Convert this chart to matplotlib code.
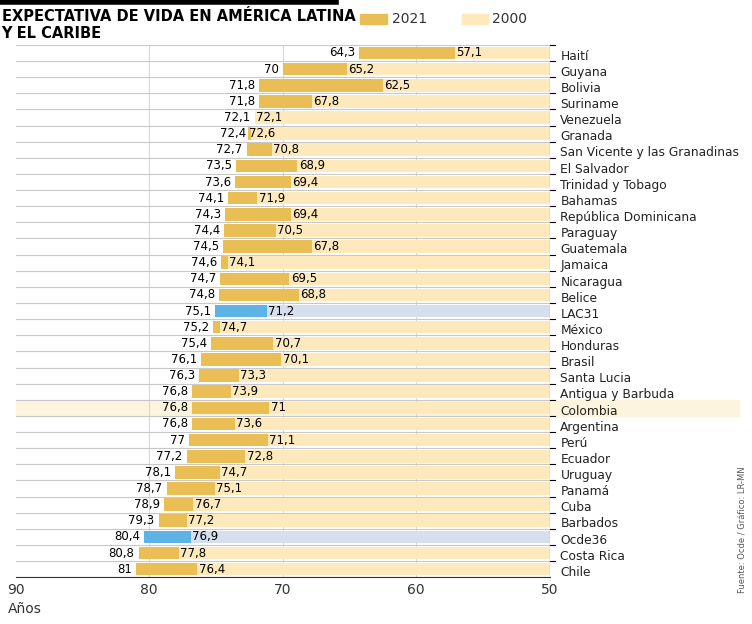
import matplotlib.pyplot as plt
from matplotlib.patches import Rectangle

paises = ["Haití", "Guyana", "Bolivia", "Suriname", "Venezuela", "Granada",
          "San Vicente y las Granadinas", "El Salvador", "Trinidad y Tobago", "Bahamas",
          "República Dominicana", "Paraguay", "Guatemala", "Jamaica", "Nicaragua", "Belice",
          "LAC31", "México", "Honduras", "Brasil", "Santa Lucia", "Antigua y Barbuda",
          "Colombia", "Argentina", "Perú", "Ecuador", "Uruguay", "Panamá", "Cuba",
          "Barbados", "Ocde36", "Costa Rica", "Chile"]
v2021 = [64.3, 70, 71.8, 71.8, 72.1, 72.4, 72.7, 73.5, 73.6, 74.1, 74.3, 74.4, 74.5,
         74.6, 74.7, 74.8, 75.1, 75.2, 75.4, 76.1, 76.3, 76.8, 76.8, 76.8, 77, 77.2,
         78.1, 78.7, 78.9, 79.3, 80.4, 80.8, 81]
v2000 = [57.1, 65.2, 62.5, 67.8, 72.1, 72.6, 70.8, 68.9, 69.4, 71.9, 69.4, 70.5, 67.8,
         74.1, 69.5, 68.8, 71.2, 74.7, 70.7, 70.1, 73.3, 73.9, 71, 73.6, 71.1, 72.8,
         74.7, 75.1, 76.7, 77.2, 76.9, 77.8, 76.4]

GOLD = "#E8BE55"
LIGHT = "#FDE9BC"
BLUE = "#5DB3E6"
BLUE_LIGHT = "#D5DFEE"

def fmt(v):
    s = ("%.1f" % v).replace(".", ",")
    return s[:-2] if s.endswith(",0") else s

fig = plt.figure(figsize=(7.52, 6.24), dpi=100)
ax = fig.add_axes([0.021, 0.075, 0.71, 0.853])
n = len(paises)

# fila destacada de Colombia
ci = paises.index("Colombia")
ax.add_patch(Rectangle((90, ci - 0.5), -54.2, 1, color="#FDF4DE", zorder=0, clip_on=False))

for x in [80, 70, 60]:
    ax.axvline(x, color="#d8d8d8", lw=0.8, zorder=0)
for i in range(n + 1):
    ax.plot([90, 50], [i - 0.5, i - 0.5], color="#c8c8c8", lw=0.8, zorder=1)

for i, (p, a, b) in enumerate(zip(paises, v2021, v2000)):
    dest = p in ("LAC31", "Ocde36")
    ax.barh(i, a - 50, left=50, height=0.78, color=BLUE_LIGHT if dest else LIGHT, zorder=2)
    ax.barh(i, b - a, left=a, height=0.78, color=BLUE if dest else GOLD, zorder=3)
    ax.text(a + 0.3, i, fmt(a), ha="right", va="center", fontsize=8.5, zorder=4)
    ax.text(b - 0.1, i, fmt(b), ha="left", va="center", fontsize=8.5, zorder=4)
    ax.text(49.2, i + 0.2, p, ha="left", va="center", fontsize=8.8, color="#222222", zorder=4)
    ax.plot([50, 49.6], [i - 0.5, i - 0.5], color="black", lw=0.8, clip_on=False)

ax.set_xlim(90, 50)
ax.set_ylim(n - 0.5, -0.5)
ax.set_yticks([])
ax.set_xticks([90, 80, 70, 60, 50])
ax.tick_params(axis="x", length=0, labelsize=10, colors="#333333", pad=4)
for s in ["top", "left", "right"]:
    ax.spines[s].set_visible(False)
ax.spines["bottom"].set_color("#333333")
ax.axvline(50, color="#333333", lw=0.8, zorder=5)

fig.text(0.01, 0.018, "Años", fontsize=10, color="#333333")
fig.text(0.993, 0.05, "Fuente: Ocde / Gráfico: LR-MN", rotation=90, fontsize=6, color="#555555",
         ha="right", va="bottom")

fig.add_artist(plt.Line2D([0, 0.447], [0.996, 0.996], color="black", lw=4, transform=fig.transFigure))
fig.text(0.002, 0.985, "EXPECTATIVA DE VIDA EN AMÉRICA LATINA\nY EL CARIBE", fontsize=10.5,
         fontweight="bold", va="top", linespacing=1.1)
fig.patches.append(Rectangle((0.479, 0.961), 0.035, 0.017, color=GOLD, transform=fig.transFigure))
fig.text(0.521, 0.97, "2021", fontsize=10, va="center", color="#333333")
fig.patches.append(Rectangle((0.614, 0.961), 0.035, 0.017, color=LIGHT, transform=fig.transFigure))
fig.text(0.654, 0.97, "2000", fontsize=10, va="center", color="#333333")

fig.savefig("out.png", dpi=100)
